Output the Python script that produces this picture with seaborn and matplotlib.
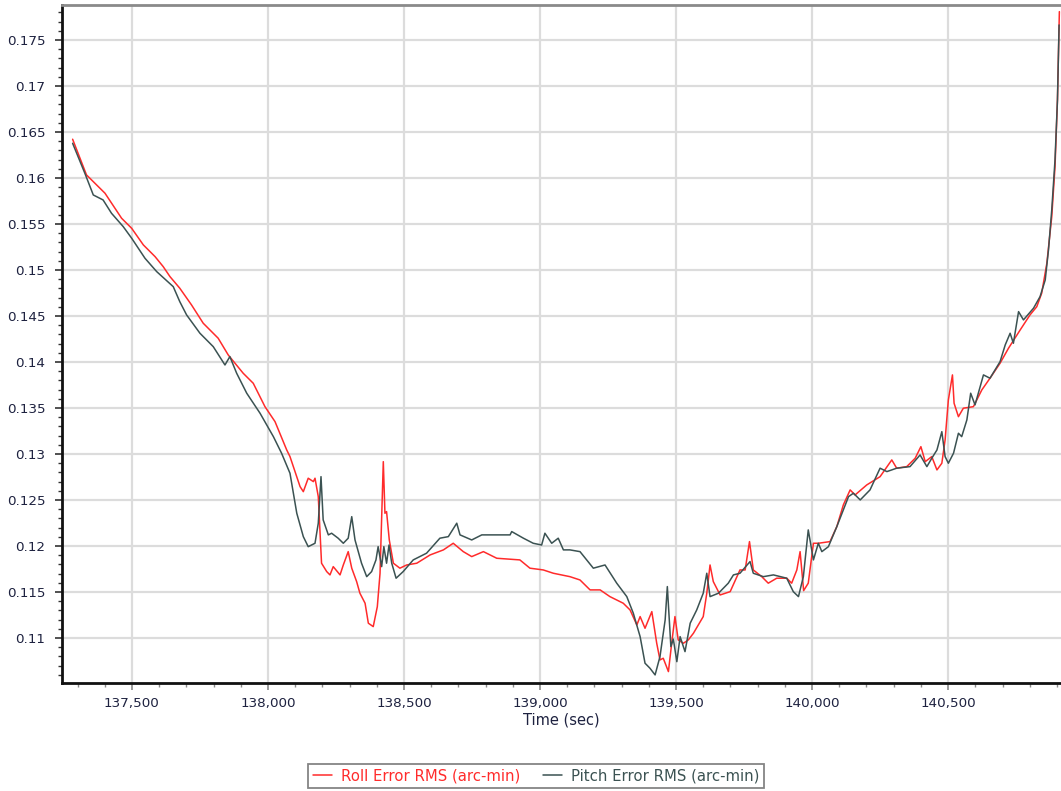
import numpy as np
import pandas as pd
import matplotlib
matplotlib.use("Agg")
import matplotlib.pyplot as plt
from matplotlib.ticker import MultipleLocator, FuncFormatter
import seaborn as sns

# Roll error RMS trace (time in seconds, value in arc-min)
roll_time = [
    137282, 137333, 137401, 137462, 137499, 137542, 137585, 137615, 137640, 137676,
    137719, 137762, 137817, 137854, 137909, 137946, 137989, 138026, 138069, 138081,
    138118, 138130, 138148, 138167, 138173, 138185, 138197, 138216, 138228, 138240,
    138265, 138277, 138295, 138308, 138326, 138338, 138357, 138369, 138387, 138402,
    138412, 138424, 138430, 138436, 138446, 138461, 138485, 138510, 138547, 138596,
    138645, 138681, 138718, 138749, 138792, 138841, 138926, 138963, 139012, 139049,
    139110, 139147, 139184, 139221, 139257, 139306, 139331, 139356, 139368, 139386,
    139411, 139429, 139441, 139453, 139472, 139484, 139496, 139508, 139527, 139545,
    139564, 139600, 139613, 139625, 139637, 139662, 139699, 139735, 139754, 139770,
    139784, 139815, 139839, 139870, 139907, 139925, 139944, 139956, 139969, 139986,
    140005, 140023, 140066, 140091, 140115, 140140, 140158, 140201, 140250, 140293,
    140311, 140348, 140379, 140400, 140416, 140440, 140459, 140477, 140489, 140501,
    140516, 140522, 140538, 140556, 140593, 140624, 140654, 140691, 140722, 140765,
    140801, 140826, 140844, 140863, 140881, 140893, 140902, 140908, 140909,
]
roll_rms = [
    0.16421, 0.16033, 0.15834, 0.15562, 0.15453, 0.15272, 0.15145, 0.15036, 0.14927, 0.14801,
    0.14620, 0.14421, 0.14258, 0.14076, 0.13877, 0.13768, 0.13514, 0.13351, 0.13043, 0.12971,
    0.12645, 0.12590, 0.12736, 0.12699, 0.12736, 0.12536, 0.11812, 0.11721, 0.11685, 0.11775,
    0.11685, 0.11793, 0.11938, 0.11758, 0.11612, 0.11486, 0.11377, 0.11160, 0.11123, 0.11340,
    0.11703, 0.12916, 0.12355, 0.12373, 0.12065, 0.11812, 0.11758, 0.11793, 0.11812, 0.11902,
    0.11957, 0.12029, 0.11938, 0.11884, 0.11938, 0.11866, 0.11848, 0.11758, 0.11739, 0.11703,
    0.11666, 0.11630, 0.11522, 0.11522, 0.11449, 0.11377, 0.11304, 0.11141, 0.11232, 0.11105,
    0.11286, 0.10942, 0.10761, 0.10779, 0.10634, 0.10942, 0.11232, 0.10978, 0.10942, 0.10978,
    0.11051, 0.11232, 0.11486, 0.11793, 0.11612, 0.11467, 0.11503, 0.11739, 0.11739, 0.12047,
    0.11739, 0.11666, 0.11595, 0.11649, 0.11649, 0.11595, 0.11739, 0.11938, 0.11514, 0.11595,
    0.12029, 0.12029, 0.12047, 0.12210, 0.12446, 0.12609, 0.12554, 0.12663, 0.12753, 0.12935,
    0.12845, 0.12862, 0.12953, 0.13079, 0.12916, 0.12971, 0.12826, 0.12899, 0.13152, 0.13587,
    0.13859, 0.13551, 0.13405, 0.13497, 0.13514, 0.13696, 0.13823, 0.13986, 0.14149, 0.14348,
    0.14511, 0.14601, 0.14747, 0.15073, 0.15579, 0.16123, 0.16848, 0.17717, 0.17808,
]

# Pitch error RMS trace (time in seconds, value in arc-min)
pitch_time = [
    137282, 137327, 137358, 137394, 137425, 137468, 137499, 137548, 137591, 137652,
    137676, 137701, 137750, 137799, 137842, 137860, 137885, 137922, 137971, 138020,
    138050, 138081, 138106, 138130, 138148, 138173, 138185, 138195, 138203, 138222,
    138234, 138258, 138277, 138295, 138308, 138320, 138344, 138363, 138381, 138397,
    138405, 138418, 138426, 138436, 138445, 138455, 138471, 138497, 138534, 138583,
    138632, 138663, 138694, 138706, 138749, 138786, 138841, 138890, 138896, 138939,
    138975, 139006, 139018, 139043, 139067, 139086, 139110, 139147, 139196, 139239,
    139282, 139319, 139343, 139368, 139386, 139404, 139423, 139441, 139460, 139468,
    139481, 139490, 139503, 139515, 139533, 139552, 139576, 139600, 139613, 139625,
    139656, 139692, 139711, 139735, 139772, 139784, 139821, 139858, 139907, 139931,
    139950, 139968, 139986, 140005, 140023, 140036, 140060, 140091, 140115, 140134,
    140152, 140177, 140213, 140250, 140275, 140311, 140360, 140397, 140422, 140440,
    140459, 140477, 140489, 140501, 140520, 140538, 140550, 140569, 140583, 140599,
    140630, 140654, 140691, 140710, 140728, 140740, 140759, 140777, 140814, 140838,
    140857, 140869, 140881, 140893, 140902, 140908,
]
pitch_rms = [
    0.16377, 0.16051, 0.15815, 0.15761, 0.15616, 0.15471, 0.15345, 0.15127, 0.14982, 0.14818,
    0.14655, 0.14511, 0.14312, 0.14166, 0.13967, 0.14058, 0.13877, 0.13660, 0.13442, 0.13188,
    0.13008, 0.12790, 0.12355, 0.12101, 0.11992, 0.12029, 0.12247, 0.12753, 0.12283, 0.12120,
    0.12138, 0.12084, 0.12029, 0.12084, 0.12318, 0.12065, 0.11812, 0.11666, 0.11721, 0.11848,
    0.11992, 0.11775, 0.11992, 0.11812, 0.12010, 0.11812, 0.11649, 0.11721, 0.11848, 0.11921,
    0.12084, 0.12101, 0.12247, 0.12120, 0.12065, 0.12120, 0.12120, 0.12120, 0.12156, 0.12084,
    0.12029, 0.12010, 0.12138, 0.12029, 0.12084, 0.11957, 0.11957, 0.11938, 0.11758, 0.11793,
    0.11595, 0.11449, 0.11268, 0.11014, 0.10725, 0.10671, 0.10598, 0.10797, 0.11196, 0.11558,
    0.10906, 0.10987, 0.10742, 0.11014, 0.10851, 0.11160, 0.11304, 0.11486, 0.11703, 0.11449,
    0.11486, 0.11595, 0.11685, 0.11703, 0.11830, 0.11703, 0.11666, 0.11685, 0.11649, 0.11503,
    0.11449, 0.11666, 0.12174, 0.11848, 0.12029, 0.11938, 0.11992, 0.12210, 0.12391, 0.12536,
    0.12573, 0.12500, 0.12609, 0.12845, 0.12808, 0.12845, 0.12862, 0.12989, 0.12862, 0.12953,
    0.13043, 0.13242, 0.12971, 0.12899, 0.13008, 0.13225, 0.13188, 0.13370, 0.13660, 0.13533,
    0.13859, 0.13823, 0.14003, 0.14185, 0.14312, 0.14203, 0.14547, 0.14457, 0.14584, 0.14710,
    0.14891, 0.15217, 0.15652, 0.16196, 0.16848, 0.17663,
]

roll_label = "Roll Error RMS (arc-min)"
pitch_label = "Pitch Error RMS (arc-min)"
roll_color = "#ff2b2b"
pitch_color = "#3b5252"
text_color = "#1e2240"

sns.set_style("white")
plt.rcParams["font.family"] = ["DejaVu Sans"]

fig = plt.figure(figsize=(10.61, 7.91), dpi=100)
ax = fig.add_axes([62 / 1061, 1 - 683 / 791, 1 - 62 / 1061, (683 - 5) / 791])

roll_df = pd.DataFrame({"time": roll_time, "rms": roll_rms})
pitch_df = pd.DataFrame({"time": pitch_time, "rms": pitch_rms})

sns.lineplot(data=roll_df, x="time", y="rms", ax=ax, color=roll_color,
             linewidth=1.1, label=roll_label, estimator=None, sort=False)
sns.lineplot(data=pitch_df, x="time", y="rms", ax=ax, color=pitch_color,
             linewidth=1.1, label=pitch_label, estimator=None, sort=False)

ax.set_xlim(137243, 140915)
ax.set_ylim(0.1051, 0.1788)

ax.xaxis.set_major_locator(MultipleLocator(500))
ax.xaxis.set_minor_locator(MultipleLocator(100))
ax.yaxis.set_major_locator(MultipleLocator(0.005))
ax.yaxis.set_minor_locator(MultipleLocator(0.001))
ax.xaxis.set_major_formatter(FuncFormatter(lambda v, p: f"{int(round(v)):,}"))
ax.yaxis.set_major_formatter(FuncFormatter(lambda v, p: f"{round(v, 3):g}"))

ax.grid(True, which="major", color="#dcdcdc", linewidth=1.6)
ax.set_axisbelow(True)

# tick marks outside the left and bottom axes
ax.tick_params(axis="x", which="both", bottom=True, top=False)
ax.tick_params(axis="y", which="both", left=True, right=False)
ax.tick_params(axis="both", which="major", labelsize=9.7, labelcolor=text_color,
               length=5, width=1.2, direction="out")
ax.tick_params(axis="both", which="minor", length=3, width=1.0, direction="out")
ax.tick_params(axis="y", which="both", color="#333333")
ax.tick_params(axis="x", which="both", color="#8a8a8a")
ax.tick_params(axis="y", which="major", pad=7)
ax.tick_params(axis="x", which="major", pad=5)

for side in ("left", "bottom"):
    ax.spines[side].set_color("#111111")
    ax.spines[side].set_linewidth(2.0)
ax.spines["top"].set_color("#8a8a8a")
ax.spines["top"].set_linewidth(2.0)
ax.spines["right"].set_visible(False)

ax.set_xlabel("Time (sec)", fontsize=10.5, color=text_color, labelpad=2)
ax.set_ylabel("")

handles, labels = ax.get_legend_handles_labels()
ax.get_legend().remove()
leg = fig.legend(handles, labels, loc="center", ncol=2,
                 bbox_to_anchor=(536 / 1061, 1 - 776 / 791),
                 fontsize=10.7, frameon=True, fancybox=False,
                 edgecolor="#666666", handlelength=1.3, handletextpad=0.6,
                 columnspacing=1.5, borderpad=0.3)
leg.get_frame().set_linewidth(1.3)
for txt, col in zip(leg.get_texts(), (roll_color, pitch_color)):
    txt.set_color(col)

fig.savefig("out.png", dpi=100)
